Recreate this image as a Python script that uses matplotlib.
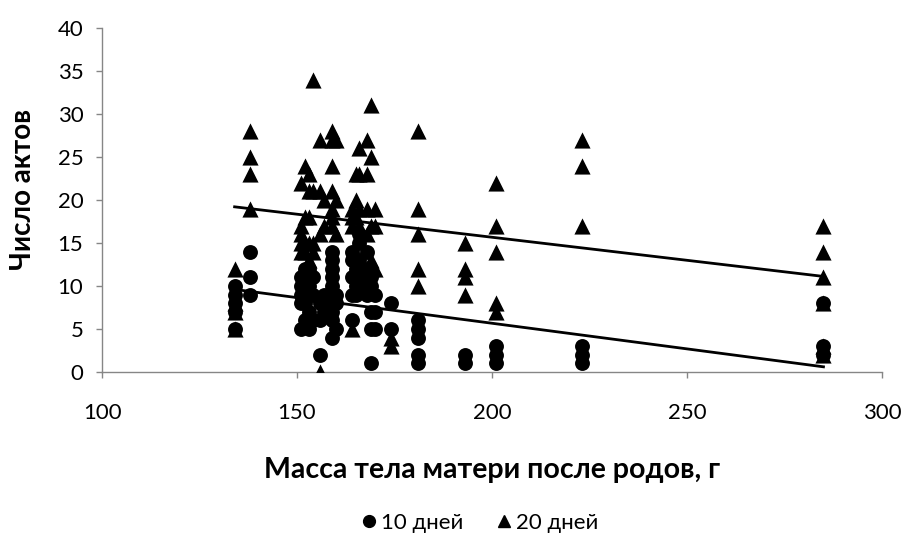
import matplotlib
matplotlib.use("Agg")
import matplotlib.pyplot as plt
from matplotlib.lines import Line2D
import numpy as np

plt.rcParams['font.family'] = ['Lato', 'DejaVu Sans']

# ---- data ----
# (x group, values)
x10_groups = [134, 138, 151, 152, 153, 154, 156, 157, 159, 160, 164, 165, 166, 168, 169, 170, 174, 181, 193, 201, 223, 285]
y10_groups = [
    [10, 9, 8, 7, 5],
    [14, 11, 9],
    [11, 10, 9, 8, 5],
    [12, 11, 9, 8, 6],
    [12, 10, 7, 5],
    [11, 9, 6],
    [8, 6, 2],
    [9, 7],
    [14, 13, 12, 11, 10, 8, 7, 6, 4],
    [9, 8, 5],
    [14, 13, 11, 9, 6],
    [12, 10, 9],
    [16, 15, 13, 11],
    [14, 12, 10, 9],
    [11, 10, 7, 5, 1],
    [9, 7, 5],
    [8, 5],
    [6, 5, 4, 2, 1],
    [2, 1],
    [3, 2, 1],
    [3, 2, 1],
    [8, 3, 2],
]
x20_groups = [134, 138, 151, 152, 153, 154, 156, 157, 159, 160, 164, 165, 166, 168, 169, 170, 174, 181, 193, 201, 223, 285]
y20_groups = [
    [12, 8, 7, 5],
    [28, 25, 23, 19],
    [22, 17, 16, 15, 14],
    [24, 18, 15, 14],
    [23, 21, 18, 15, 13],
    [34, 21, 15, 14],
    [27, 21, 16, 0],
    [20, 17],
    [28, 27, 24, 21, 19, 18, 17],
    [27, 20, 16],
    [19, 18, 17, 5],
    [23, 20, 18],
    [26, 23, 19, 17],
    [27, 23, 19, 16],
    [31, 25, 17, 13, 12],
    [19, 17, 12],
    [4, 3],
    [28, 19, 16, 12, 10],
    [15, 12, 11, 9],
    [22, 17, 14, 8, 7],
    [27, 24, 17],
    [17, 14, 11, 8, 3, 2],
]
# linear trend lines (slope, intercept)
trend10 = (-0.0596, 17.59)
trend20 = (-0.0536, 26.39)
trend_x_range = [134, 285]

series_labels = ['10 дней', '20 дней']
x_ticks = [100, 150, 200, 250, 300]
y_ticks = [0, 5, 10, 15, 20, 25, 30, 35, 40]
x_title = 'Масса тела матери после родов, г'
y_title = 'Число актов'

x10 = np.concatenate([[x] * len(v) for x, v in zip(x10_groups, y10_groups)])
y10 = np.concatenate(y10_groups)
x20 = np.concatenate([[x] * len(v) for x, v in zip(x20_groups, y20_groups)])
y20 = np.concatenate(y20_groups)

fig = plt.figure(figsize=(9.02, 5.43), dpi=100)
ax = fig.add_axes([0.1131, 0.3149, 0.8647, 0.6335])

ax.scatter(x10, y10, s=115, marker='o', color='black', linewidths=0, zorder=3)
ax.scatter(x20, y20, s=135, marker='^', color='black', linewidths=0, zorder=4)

tx = np.array(trend_x_range, dtype=float)
for slope, icpt in (trend10, trend20):
    ax.plot(tx, slope * tx + icpt, color='black', lw=2, zorder=5)

ax.set_xlim(100, 300)
ax.set_ylim(0, 40)
ax.set_xticks(x_ticks)
ax.set_yticks(y_ticks)
for s in ('top', 'right'):
    ax.spines[s].set_visible(False)
for s in ('left', 'bottom'):
    ax.spines[s].set_color('#868686')
    ax.spines[s].set_linewidth(1)
ax.tick_params(axis='both', direction='out', length=4.5, width=1, color='#868686',
               labelsize=16, labelcolor='black')
ax.tick_params(axis='x', pad=18)
ax.tick_params(axis='y', pad=9)

ax.set_xlabel(x_title, fontsize=20.5, fontweight='bold', labelpad=24)
ax.set_ylabel(y_title, fontsize=20, fontweight='bold')
ax.yaxis.set_label_coords(-0.0846, 0.53)

handles = [Line2D([], [], marker='o', color='black', ls='none', markersize=8.5),
           Line2D([], [], marker='^', color='black', ls='none', markersize=8.5)]
fig.legend(handles, series_labels, loc='center', bbox_to_anchor=(0.53, 0.037),
           ncol=2, frameon=False, fontsize=16, handletextpad=0.05,
           columnspacing=1.3, handlelength=1.0)

fig.savefig('out.png', dpi=100)
